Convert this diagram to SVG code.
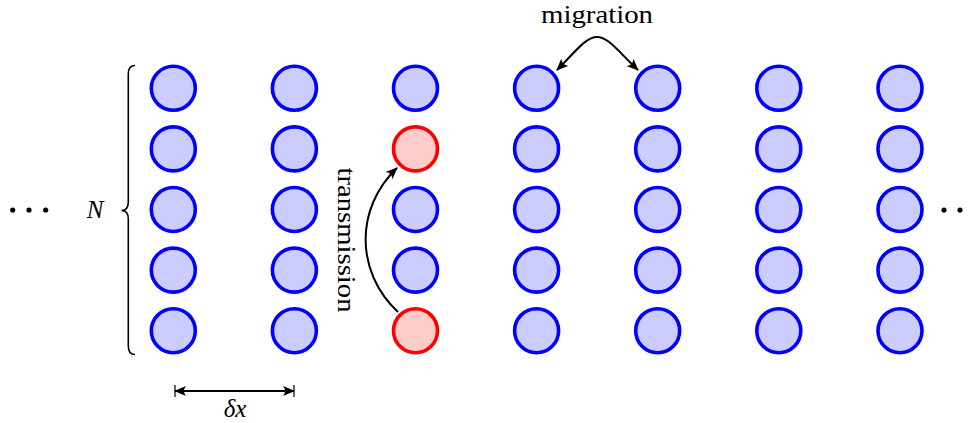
<svg xmlns="http://www.w3.org/2000/svg" width="974" height="423" viewBox="0 0 974 423">
<style>
.n{fill:#ccccff;stroke:#0000ff;stroke-width:3.6}
.r{fill:#ffcccc;stroke:#ff0000;stroke-width:3.6}
.t{font-family:"Liberation Serif","Times New Roman","DejaVu Serif",serif;font-size:25px;fill:#000}
.i{font-family:"Liberation Serif","Times New Roman","DejaVu Serif",serif;font-style:italic;font-size:25px;fill:#000}
.c{fill:none;stroke:#000;stroke-width:2}
</style>
<defs>
<marker id="ah" viewBox="0 0 12 10" refX="11" refY="5" markerWidth="12" markerHeight="10" markerUnits="userSpaceOnUse" orient="auto-start-reverse">
<path d="M0,0 Q4,5 0,10 L12,5 Z" fill="#000"/>
</marker>
</defs>
<rect width="974" height="423" fill="#fff"/>
<g id="nodes">
<g id="c1"><circle class="n" cx="173.3" cy="88.3" r="22"/><circle class="n" cx="173.3" cy="148.9" r="22"/><circle class="n" cx="173.3" cy="209.5" r="22"/><circle class="n" cx="173.3" cy="270.1" r="22"/><circle class="n" cx="173.3" cy="330.7" r="22"/></g>
<g id="c2"><circle class="n" cx="294.4" cy="88.3" r="22"/><circle class="n" cx="294.4" cy="148.9" r="22"/><circle class="n" cx="294.4" cy="209.5" r="22"/><circle class="n" cx="294.4" cy="270.1" r="22"/><circle class="n" cx="294.4" cy="330.7" r="22"/></g>
<g id="c3"><circle class="n" cx="415.5" cy="88.3" r="22"/><circle class="r" cx="415.5" cy="148.9" r="22"/><circle class="n" cx="415.5" cy="209.5" r="22"/><circle class="n" cx="415.5" cy="270.1" r="22"/><circle class="r" cx="415.5" cy="330.7" r="22"/></g>
<g id="c4"><circle class="n" cx="536.6" cy="88.3" r="22"/><circle class="n" cx="536.6" cy="148.9" r="22"/><circle class="n" cx="536.6" cy="209.5" r="22"/><circle class="n" cx="536.6" cy="270.1" r="22"/><circle class="n" cx="536.6" cy="330.7" r="22"/></g>
<g id="c5"><circle class="n" cx="657.7" cy="88.3" r="22"/><circle class="n" cx="657.7" cy="148.9" r="22"/><circle class="n" cx="657.7" cy="209.5" r="22"/><circle class="n" cx="657.7" cy="270.1" r="22"/><circle class="n" cx="657.7" cy="330.7" r="22"/></g>
<g id="c6"><circle class="n" cx="778.8" cy="88.3" r="22"/><circle class="n" cx="778.8" cy="148.9" r="22"/><circle class="n" cx="778.8" cy="209.5" r="22"/><circle class="n" cx="778.8" cy="270.1" r="22"/><circle class="n" cx="778.8" cy="330.7" r="22"/></g>
<g id="c7"><circle class="n" cx="900" cy="88.3" r="22"/><circle class="n" cx="900" cy="148.9" r="22"/><circle class="n" cx="900" cy="209.5" r="22"/><circle class="n" cx="900" cy="270.1" r="22"/><circle class="n" cx="900" cy="330.7" r="22"/></g>
</g>
<g id="dots" fill="#000">
<circle cx="12.7" cy="210" r="2.6"/><circle cx="29" cy="210" r="2.6"/><circle cx="45.7" cy="210" r="2.6"/>
<circle cx="944" cy="210" r="2.6"/><circle cx="960" cy="210" r="2.6"/>
</g>
<g id="brace">
<path d="M135 65.5 Q128.3 65.5 128.3 74 L128.3 202 Q128.3 210.5 121.5 210.5 Q128.3 210.5 128.3 219 L128.3 346 Q128.3 354.5 135 354.5" fill="none" stroke="#000" stroke-width="1.6"/>
<text class="i" x="95" y="218" text-anchor="middle">N</text>
</g>
<g id="connectors">
<path class="c" d="M398 312 C355 272 355 208 397 168" marker-end="url(#ah)"/>
<path class="c" d="M557 70 C577 50 586 37 597 37 C608 37 617 50 638 70" marker-start="url(#ah)" marker-end="url(#ah)"/>
<path d="M175 391 L294 391" class="c" stroke-width="1.5" marker-start="url(#ah)" marker-end="url(#ah)"/>
<path d="M175 385 L175 397 M294 385 L294 397" stroke="#000" stroke-width="1.2"/>
</g>
<g id="labels">
<text class="t" x="597" y="23" text-anchor="middle" textLength="112" lengthAdjust="spacingAndGlyphs">migration</text>
<text class="t" transform="translate(338,240) rotate(90)" x="0" y="0" text-anchor="middle" textLength="145" lengthAdjust="spacingAndGlyphs">transmission</text>
<text class="i" x="235" y="417" text-anchor="middle">δx</text>
</g>
</svg>
